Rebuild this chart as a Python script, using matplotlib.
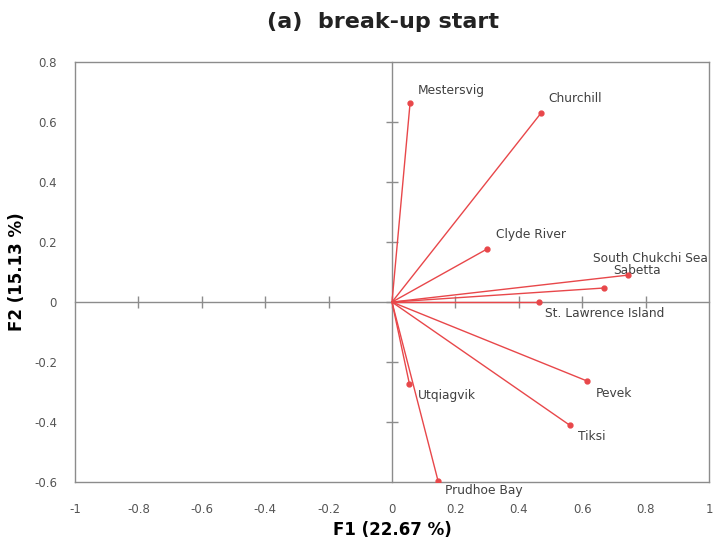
import matplotlib.pyplot as plt
import numpy as np

# variable loadings on F1 / F2
names = ['Mestersvig', 'Churchill', 'Clyde River', 'South Chukchi Sea', 'Sabetta',
         'St. Lawrence Island', 'Pevek', 'Tiksi', 'Utqiagvik', 'Prudhoe Bay']
f1 = [0.057, 0.47, 0.30, 0.745, 0.67, 0.465, 0.615, 0.56, 0.055, 0.145]
f2 = [0.663, 0.63, 0.177, 0.09, 0.047, 0.0, -0.263, -0.41, -0.273, -0.595]

# label offsets in pixels (dx, dy)
offsets = [(8, 13), (7, 15), (9, 14), (-35, 17), (9, 17),
           (6, -11), (9, -13), (8, -11), (8, -12), (7, -10)]

xticks = np.round(np.arange(-1, 1.01, 0.2), 1) + 0.0
yticks = np.round(np.arange(-0.6, 0.81, 0.2), 1) + 0.0

red = '#e8474a'
gray = '#8c8c8c'

fig = plt.figure(figsize=(7.14, 5.5), dpi=100)
pos = [0.105, 0.1236, 0.888, 0.7634]
ax = fig.add_axes(pos)
ax.set_xlim(-1, 1)
ax.set_ylim(-0.6, 0.8)
ax.set_xticks(xticks)
ax.set_yticks(yticks)
ax.set_xticklabels(['0' if abs(v) < 1e-9 else f'{v:g}' for v in xticks])
ax.set_yticklabels(['0' if abs(v) < 1e-9 else f'{v:g}' for v in yticks])
ax.tick_params(length=0, labelsize=8.5, labelcolor='#555555')
ax.tick_params(axis='x', pad=15)
ax.tick_params(axis='y', pad=13)
for s in ax.spines.values():
    s.set_color(gray)
    s.set_linewidth(1.0)

# cross axes through origin
ax2 = fig.add_axes(pos)
ax2.set_xlim(-1, 1)
ax2.set_ylim(-0.6, 0.8)
ax2.patch.set_visible(False)
ax2.spines['left'].set_position(('data', 0))
ax2.spines['bottom'].set_position(('data', 0))
ax2.spines['top'].set_visible(False)
ax2.spines['right'].set_visible(False)
for k in ['left', 'bottom']:
    ax2.spines[k].set_color(gray)
    ax2.spines[k].set_linewidth(1.0)
ax2.set_xticks(xticks[1:-1])
ax2.set_yticks(yticks[1:-1])
ax2.tick_params(direction='inout', length=9, color=gray, width=1.0,
                labelbottom=False, labelleft=False)

for n, x, y, (dx, dy) in zip(names, f1, f2, offsets):
    ax2.plot([0, x], [0, y], color=red, lw=1.0, zorder=3)
    ax2.plot(x, y, 'o', color=red, ms=3.5, zorder=4)
    ax2.annotate(n, (x, y), xytext=(dx, dy), textcoords='offset pixels',
                 ha='left', va='center', fontsize=8.8, color='#404040')

fig.text(0.537, 0.96, '(a)  break-up start', ha='center', va='center',
         fontsize=16, fontweight='bold', color='#222222')
ax.set_xlabel('F1 (22.67 %)', fontsize=12, fontweight='bold', labelpad=4)
ax.set_ylabel('F2 (15.13 %)', fontsize=12, fontweight='bold', labelpad=6)

fig.savefig('out.png', dpi=100)
